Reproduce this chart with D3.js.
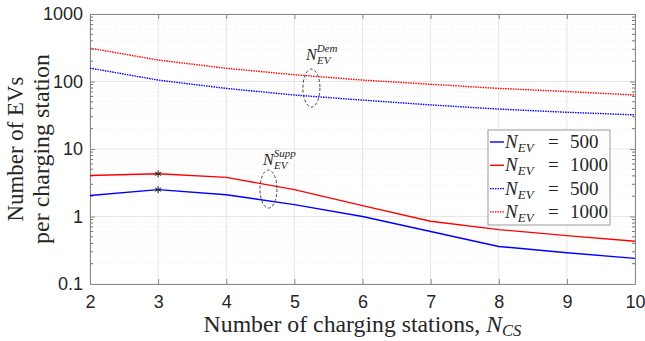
<!DOCTYPE html>
<html>
<head>
<meta charset="utf-8">
<script src="https://cdn.jsdelivr.net/npm/d3@7"></script>
<style>
  body { margin: 0; background: #fff; }
</style>
</head>
<body>
<div id="chart"></div>
<script>
// stations on the x axis
const stations = [2, 3, 4, 5, 6, 7, 8, 9, 10];
// supply (solid) and demand (dotted) curves
const supp500 = [2.05, 2.5, 2.1, 1.5, 1.0, 0.6, 0.36, 0.29, 0.24];
const supp1000 = [4.05, 4.3, 3.8, 2.5, 1.45, 0.85, 0.64, 0.52, 0.43];
const dem500 = [158, 105, 79, 63, 53, 45, 39, 35, 32];
const dem1000 = [312, 208, 157, 126, 105, 91, 79, 71, 63];
const yTicks = [0.1, 1, 10, 100, 1000];
const legendLabels = ["500", "1000", "500", "1000"];

const SERIF = "'Liberation Serif', 'DejaVu Serif', serif";
const SANS = "'Liberation Sans', Arial, sans-serif";

const W = 645, H = 341;
const margin = { top: 14, right: 10, bottom: 57, left: 90 };
const width = W - margin.left - margin.right;
const height = H - margin.top - margin.bottom;

const svg = d3.select("#chart").append("svg")
    .attr("width", W).attr("height", H);
const g = svg.append("g").attr("transform", `translate(${margin.left},${margin.top})`);

const x = d3.scaleLinear().domain([2, 10]).range([0, width]);
const y = d3.scaleLog().domain([0.1, 1000]).range([height, 0]);

// stretch a label's font size so it spans the wanted width (LaTeX fonts run wide)
function fit(sel, target) {
  const fs = parseFloat(sel.style("font-size"));
  const len = sel.node().getComputedTextLength();
  sel.style("font-size", (fs * target / len) + "px");
}

// minor log values
let minor = [];
for (let d = 0.1; d < 1000; d *= 10) {
  for (let k = 2; k <= 9; k++) minor.push(+(d * k).toPrecision(3));
}

// grid
g.append("g").selectAll("line").data(minor).join("line")
    .attr("x1", 0).attr("x2", width)
    .attr("y1", d => y(d)).attr("y2", d => y(d))
    .attr("stroke", "#ececec").attr("stroke-dasharray", "1,2").attr("stroke-width", 0.8);
g.append("g").selectAll("line").data(yTicks).join("line")
    .attr("x1", 0).attr("x2", width)
    .attr("y1", d => y(d)).attr("y2", d => y(d))
    .attr("stroke", "#e6e6e6").attr("stroke-width", 1);
g.append("g").selectAll("line").data(stations).join("line")
    .attr("x1", d => x(d)).attr("x2", d => x(d))
    .attr("y1", 0).attr("y2", height)
    .attr("stroke", "#e6e6e6").attr("stroke-width", 1);

// axes
g.append("g").attr("transform", `translate(0,${height})`)
    .call(d3.axisBottom(x).tickValues(stations).tickFormat(d3.format("d")).tickSizeInner(-5).tickSizeOuter(0).tickPadding(11));
g.append("g")
    .call(d3.axisLeft(y).tickValues(yTicks).tickFormat(d => d < 1 ? "0.1" : d3.format("d")(d)).tickSizeInner(-5).tickSizeOuter(0).tickPadding(7));
g.append("g").attr("transform", `translate(${width},0)`)
    .call(d3.axisRight(y).tickValues(yTicks).tickFormat("").tickSizeInner(-5).tickSizeOuter(0));
g.append("g")
    .call(d3.axisTop(x).tickValues(stations).tickFormat("").tickSizeInner(-5).tickSizeOuter(0));
g.selectAll(".tick text")
    .style("font-family", SANS).style("font-size", "18px").attr("fill", "#262626");
// minor ticks on both sides
g.append("g").selectAll("line").data(minor).join("line")
    .attr("x1", 0).attr("x2", 3).attr("y1", d => y(d)).attr("y2", d => y(d))
    .attr("stroke", "#777");
g.append("g").selectAll("line").data(minor).join("line")
    .attr("x1", width - 3).attr("x2", width).attr("y1", d => y(d)).attr("y2", d => y(d))
    .attr("stroke", "#777");
g.selectAll(".domain").attr("stroke", "#888");
g.selectAll(".tick line").attr("stroke", "#888");

// curves
const line = d3.line().x((d, i) => x(stations[i])).y(d => y(d));
const series = [
  { v: supp500, c: "#0000ff", dash: null },
  { v: supp1000, c: "#ff0000", dash: null },
  { v: dem500, c: "#0000ff", dash: "1.5,1" },
  { v: dem1000, c: "#ff0000", dash: "1.5,1" }
];
g.append("g").selectAll("path").data(series).join("path")
    .attr("d", d => line(d.v))
    .attr("fill", "none")
    .attr("stroke", d => d.c)
    .attr("stroke-width", 1.4)
    .attr("stroke-dasharray", d => d.dash);

// asterisks at the peak of supply curves
const star = d3.symbol().type(d3.symbolAsterisk).size(34);
g.append("g").selectAll("path").data([supp500[1], supp1000[1]]).join("path")
    .attr("transform", d => `translate(${x(stations[1])},${y(d)})`)
    .attr("d", star)
    .attr("fill", "none").attr("stroke", "#222").attr("stroke-width", 1);

// annotations
function note(cx, cy, lx, ly, sup) {
  g.append("ellipse").attr("cx", cx).attr("cy", cy).attr("rx", 8.5).attr("ry", 19)
      .attr("fill", "none").attr("stroke", "#444").attr("stroke-dasharray", "3,2").attr("stroke-width", 1);
  const t = g.append("text").style("font-family", SERIF).attr("fill", "#262626")
      .attr("x", lx).attr("y", ly).style("font-style", "italic");
  t.append("tspan").style("font-size", "16px").text("N");
  t.append("tspan").style("font-size", "11px").attr("dx", 0).attr("dy", -8).text(sup);
  g.append("text").style("font-family", SERIF).attr("fill", "#262626")
      .attr("x", lx + 11).attr("y", ly + 4).style("font-style", "italic").style("font-size", "11px").text("EV");
}
note(x(5.25), y(80), x(5.17), y(205), "Dem");
note(x(4.62), y(2.55), x(4.54), y(5.7), "Supp");

// legend
const lg = svg.append("g").attr("transform", "translate(488,130)");
lg.append("rect").attr("width", 122).attr("height", 95)
    .attr("fill", "#fff").attr("stroke", "#999").attr("stroke-width", 1);
series.forEach((s, i) => {
  const yy = 12 + i * 23.3;
  lg.append("line").attr("x1", 2).attr("x2", 16).attr("y1", yy).attr("y2", yy)
      .attr("stroke", s.c).attr("stroke-width", 1.4).attr("stroke-dasharray", s.dash);
  const t = lg.append("text").style("font-family", SERIF).attr("fill", "#262626")
      .attr("x", 17).attr("y", yy + 6).style("font-size", "19px");
  t.append("tspan").style("font-style", "italic").text("N");
  t.append("tspan").style("font-style", "italic").style("font-size", "13px").attr("dy", 4).text("EV");
  lg.append("text").style("font-family", SERIF).attr("fill", "#262626")
      .attr("x", 60).attr("y", yy + 6).style("font-size", "19px").text("=");
  lg.append("text").style("font-family", SERIF).attr("fill", "#262626")
      .attr("x", 82).attr("y", yy + 6).style("font-size", "19px").text(legendLabels[i]);
});

// axis labels
const xl = svg.append("text").style("font-family", SERIF).attr("fill", "#262626")
    .attr("x", margin.left + width / 2).attr("y", 332)
    .attr("text-anchor", "middle").style("font-size", "20px");
xl.append("tspan").text("Number of charging stations, ");
xl.append("tspan").style("font-style", "italic").text("N");
xl.append("tspan").style("font-style", "italic").style("font-size", "0.7em").attr("dy", 4).text("CS");
fit(xl, 318);

const yl1 = svg.append("text").style("font-family", SERIF).attr("fill", "#262626")
    .attr("transform", `translate(23,${margin.top + height / 2}) rotate(-90)`)
    .attr("text-anchor", "middle").style("font-size", "20px").text("Number of EVs");
fit(yl1, 145);
const yl2 = svg.append("text").style("font-family", SERIF).attr("fill", "#262626")
    .attr("transform", `translate(49,${margin.top + height / 2}) rotate(-90)`)
    .attr("text-anchor", "middle").style("font-size", "20px").text("per charging station");
fit(yl2, 190);
</script>
</body>
</html>
